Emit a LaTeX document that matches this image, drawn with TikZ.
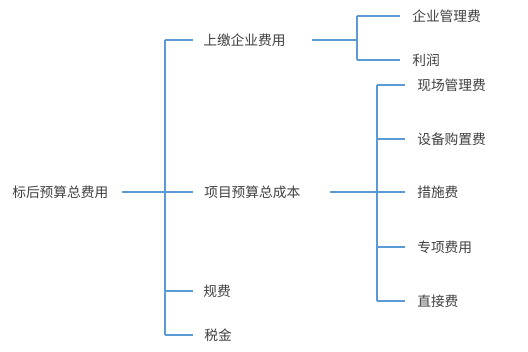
\documentclass[tikz,border=0pt]{standalone}
\usepackage{fontspec}
\setmainfont{Noto Sans CJK SC}
\definecolor{linec}{RGB}{91,155,213}
\definecolor{txtc}{RGB}{64,64,64}
\begin{document}
\begin{tikzpicture}[x=0.75pt,y=-0.75pt,
  lbl/.style={anchor=west,inner sep=0pt,text=txtc,font=\fontsize{10.3}{12}\selectfont},
  conn/.style={draw=linec,line width=1.1pt}]
\useasboundingbox (0,0) rectangle (528,352);
% nodes
\node[lbl] (root) at (12,192) {标后预算总费用};
\node[lbl] (a) at (203,40) {上缴企业费用};
\node[lbl] (b) at (204,192) {项目预算总成本};
\node[lbl] (c) at (203,291) {规费};
\node[lbl] (d) at (204,335) {税金};
\node[lbl] (a1) at (412,16) {企业管理费};
\node[lbl] (a2) at (412,60) {利润};
\node[lbl] (b1) at (417,85) {现场管理费};
\node[lbl] (b2) at (417,139) {设备购置费};
\node[lbl] (b3) at (417,192) {措施费};
\node[lbl] (b4) at (417,247) {专项费用};
\node[lbl] (b5) at (417,301) {直接费};
% connector ends
\coordinate (r0) at (122,192);
\coordinate (j0) at (165,192);
\coordinate (e1) at (193,192);
\coordinate (ax) at (312,40);
\coordinate (ja) at (357,40);
\coordinate (ea) at (400,0);
\coordinate (bx) at (330,192);
\coordinate (jb) at (377,192);
\coordinate (eb) at (405,0);
% level 1
\draw[conn] (r0) -- (e1);
\draw[conn] (j0 |- a) -- (j0 |- d);
\foreach \n in {a,c,d}{
  \draw[conn] (j0 |- \n) -- (e1 |- \n);
}
% level 2a
\draw[conn] (ax) -- (ja);
\draw[conn] (ja |- a1) -- (ja |- a2);
\foreach \n in {a1,a2}{
  \draw[conn] (ja |- \n) -- (ea |- \n);
}
% level 2b
\draw[conn] (bx) -- (jb);
\draw[conn] (jb |- b1) -- (jb |- b5);
\foreach \n in {b1,b2,b3,b4,b5}{
  \draw[conn] (jb |- \n) -- (eb |- \n);
}
\end{tikzpicture}
\end{document}
